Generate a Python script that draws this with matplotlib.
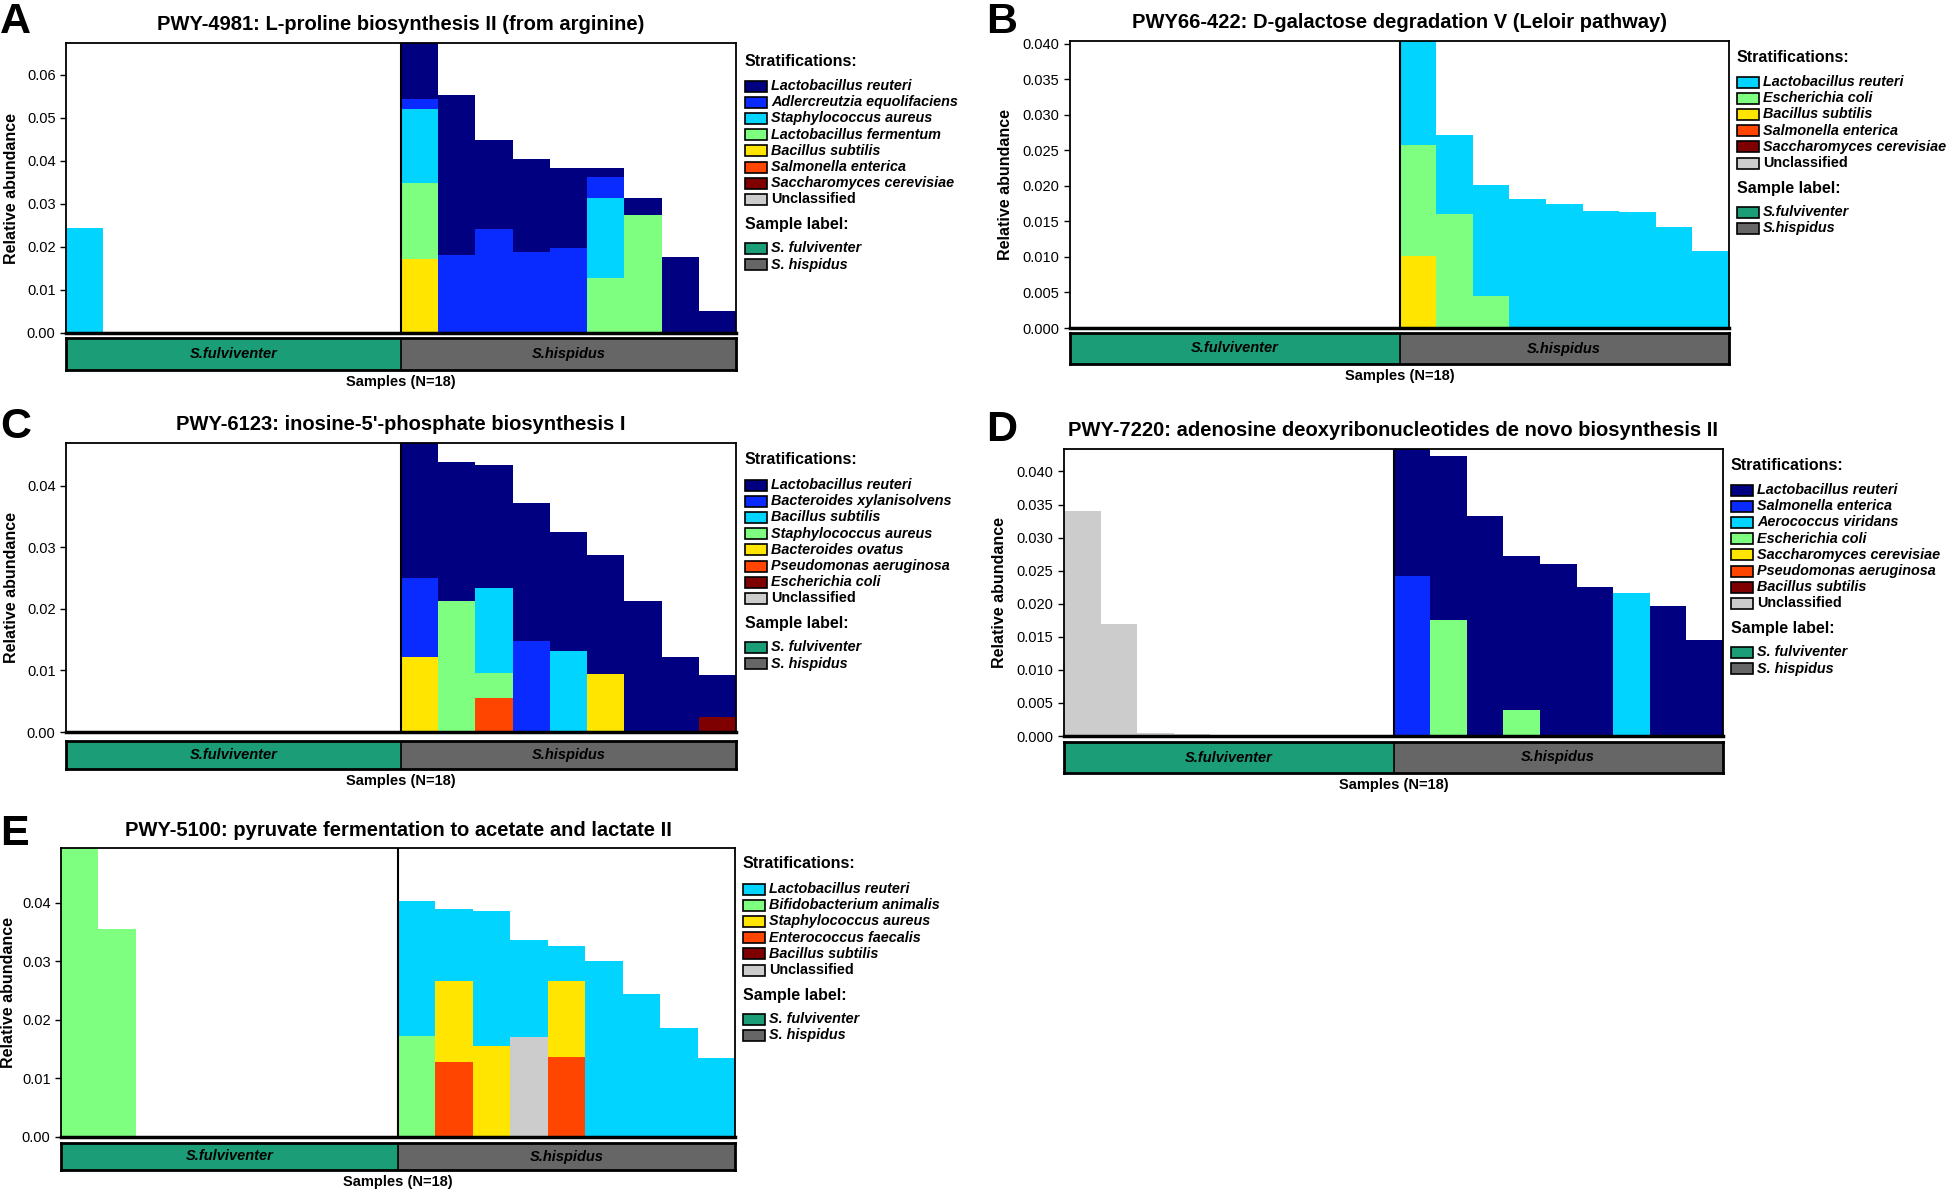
import numpy as np
import matplotlib
matplotlib.use('Agg')
import matplotlib.pyplot as plt
from matplotlib.patches import Rectangle
from matplotlib.ticker import MultipleLocator, FormatStrFormatter

plt.rcParams['font.family'] = ['Liberation Sans', 'DejaVu Sans']

W, H = 1946, 1190

# samples: 9 x S.fulviventer then 9 x S.hispidus, values are stacked segment heights
group_names = ['S.fulviventer', 'S.hispidus']

# A: PWY-4981
a_species = ['Lactobacillus reuteri', 'Adlercreutzia equolifaciens', 'Staphylococcus aureus',
             'Lactobacillus fermentum', 'Bacillus subtilis', 'Salmonella enterica',
             'Saccharomyces cerevisiae', 'Unclassified']
a_reuteri = [0, 0, 0, 0, 0, 0, 0, 0, 0, 0.0129, 0.0371, 0.0207, 0.0217, 0.0187, 0.0020, 0.0040, 0.0177, 0.0052]
a_adler = [0, 0, 0, 0, 0, 0, 0, 0, 0, 0.0025, 0.0181, 0.0241, 0.0188, 0.0197, 0.0049, 0, 0, 0]
a_aureus = [0.0243, 0, 0, 0, 0, 0, 0, 0, 0, 0.0171, 0, 0, 0, 0, 0.0187, 0, 0, 0]
a_fermentum = [0, 0, 0, 0, 0, 0, 0, 0, 0, 0.0177, 0, 0, 0, 0, 0.0127, 0.0274, 0, 0]
a_subtilis = [0, 0, 0, 0, 0, 0, 0, 0, 0, 0.0172, 0, 0, 0, 0, 0, 0, 0, 0]
a_salmonella = [0] * 18
a_sacch = [0] * 18
a_unclass = [0] * 18

# B: PWY66-422
b_species = ['Lactobacillus reuteri', 'Escherichia coli', 'Bacillus subtilis',
             'Salmonella enterica', 'Saccharomyces cerevisiae', 'Unclassified']
b_reuteri = [0, 0, 0, 0, 0, 0, 0, 0, 0, 0.0147, 0.0110, 0.0156, 0.0182, 0.0174, 0.0165, 0.0163, 0.0142, 0.0108]
b_ecoli = [0, 0, 0, 0, 0, 0, 0, 0, 0, 0.0156, 0.0161, 0.0045, 0, 0, 0, 0, 0, 0]
b_subtilis = [0, 0, 0, 0, 0, 0, 0, 0, 0, 0.0101, 0, 0, 0, 0, 0, 0, 0, 0]
b_salmonella = [0] * 18
b_sacch = [0] * 18
b_unclass = [0] * 18

# C: PWY-6123
c_species = ['Lactobacillus reuteri', 'Bacteroides xylanisolvens', 'Bacillus subtilis',
             'Staphylococcus aureus', 'Bacteroides ovatus', 'Pseudomonas aeruginosa',
             'Escherichia coli', 'Unclassified']
c_reuteri = [0, 0, 0, 0, 0, 0, 0, 0, 0, 0.0219, 0.0225, 0.0200, 0.0223, 0.0193, 0.0194, 0.0212, 0.0121, 0.0068]
c_xylan = [0, 0, 0, 0, 0, 0, 0, 0, 0, 0.0129, 0, 0, 0.0148, 0, 0, 0, 0, 0]
c_subtilis = [0, 0, 0, 0, 0, 0, 0, 0, 0, 0, 0, 0.0138, 0, 0.0132, 0, 0, 0, 0]
c_aureus = [0, 0, 0, 0, 0, 0, 0, 0, 0, 0, 0.0213, 0.0041, 0, 0, 0, 0, 0, 0]
c_ovatus = [0, 0, 0, 0, 0, 0, 0, 0, 0, 0.0121, 0, 0, 0, 0, 0.0094, 0, 0, 0]
c_aeruginosa = [0, 0, 0, 0, 0, 0, 0, 0, 0, 0, 0, 0.0055, 0, 0, 0, 0, 0, 0]
c_ecoli = [0, 0, 0, 0, 0, 0, 0, 0, 0, 0, 0, 0, 0, 0, 0, 0, 0, 0.0024]
c_unclass = [0] * 18

# D: PWY-7220
d_species = ['Lactobacillus reuteri', 'Salmonella enterica', 'Aerococcus viridans',
             'Escherichia coli', 'Saccharomyces cerevisiae', 'Pseudomonas aeruginosa',
             'Bacillus subtilis', 'Unclassified']
d_reuteri = [0, 0, 0, 0, 0, 0, 0, 0, 0, 0.0192, 0.0249, 0.0333, 0.0232, 0.0260, 0.0226, 0, 0.0197, 0.0145]
d_salmonella = [0, 0, 0, 0, 0, 0, 0, 0, 0, 0.0242, 0, 0, 0, 0, 0, 0, 0, 0]
d_aerococcus = [0, 0, 0, 0, 0, 0, 0, 0, 0, 0, 0, 0, 0, 0, 0, 0.0217, 0, 0]
d_ecoli = [0, 0, 0, 0, 0, 0, 0, 0, 0, 0, 0.0175, 0, 0.0040, 0, 0, 0, 0, 0]
d_sacch = [0] * 18
d_aeruginosa = [0] * 18
d_subtilis = [0] * 18
d_unclass = [0.0340, 0.0169, 0.0005, 0.0003, 0, 0, 0, 0, 0, 0, 0, 0, 0, 0, 0, 0, 0, 0]

# E: PWY-5100
e_species = ['Lactobacillus reuteri', 'Bifidobacterium animalis', 'Staphylococcus aureus',
             'Enterococcus faecalis', 'Bacillus subtilis', 'Unclassified']
e_reuteri = [0, 0, 0, 0, 0, 0, 0, 0, 0, 0.0231, 0.0123, 0.0231, 0.0166, 0.0060, 0.0301, 0.0245, 0.0186, 0.0135]
e_bifido = [0.0494, 0.0356, 0, 0, 0, 0, 0, 0, 0, 0.0172, 0, 0, 0, 0, 0, 0, 0, 0]
e_aureus = [0, 0, 0, 0, 0, 0, 0, 0, 0, 0, 0.0138, 0.0155, 0, 0.0131, 0, 0, 0, 0]
e_faecalis = [0, 0, 0, 0, 0, 0, 0, 0, 0, 0, 0.0129, 0, 0, 0.0136, 0, 0, 0, 0]
e_subtilis = [0] * 18
e_unclass = [0, 0, 0, 0, 0, 0, 0, 0, 0, 0, 0, 0, 0.0171, 0, 0, 0, 0, 0]

pal8 = ['#000080', '#0a2bff', '#00d4ff', '#7fff7f', '#ffe500', '#ff4500', '#7f0000', '#cccccc']
pal6 = pal8[2:]
group_colors = ['#1b9e77', '#666666']

fig = plt.figure(figsize=(W / 100, H / 100), dpi=100)
overlay = fig.add_axes([0, 0, 1, 1], zorder=10)
overlay.set_xlim(0, W)
overlay.set_ylim(H, 0)
overlay.axis('off')


def px_axes(x0, y0, x1, y1):
    return fig.add_axes([x0 / W, 1 - y1 / H, (x1 - x0) / W, (y1 - y0) / H])


def draw_panel(letter, letter_xy, title, box, bar_y, species, values, colors,
               step, fmt, ylab_x, leg_xy, sample_names):
    x0, y0, x1, y1 = box
    ax = px_axes(x0, y0, x1, y1)
    x = np.arange(18)
    bottom = np.zeros(18)
    # stack from the last legend entry up to the first
    for vals, col in list(zip(values, colors))[::-1]:
        vals = np.array(vals)
        ax.bar(x, vals, width=1, bottom=bottom, align='edge', color=col, linewidth=0)
        bottom += vals
    ax.set_xlim(0, 18)
    ax.set_ylim(0, bottom.max())
    ax.axvline(9, color='black', lw=1.5)
    ax.set_xticks([])
    ax.yaxis.set_major_locator(MultipleLocator(step))
    ax.yaxis.set_major_formatter(FormatStrFormatter(fmt))
    ax.tick_params(axis='y', labelsize=10.5, length=4, width=1)
    for s in ax.spines.values():
        s.set_linewidth(1.3)
    ax.spines['bottom'].set_linewidth(2.5)

    # sample label strip
    bx = px_axes(x0, bar_y[0], x1, bar_y[1])
    bx.set_xlim(0, 18)
    bx.set_ylim(0, 1)
    bx.add_patch(Rectangle((0, 0), 9, 1, color=group_colors[0], lw=0))
    bx.add_patch(Rectangle((9, 0), 9, 1, color=group_colors[1], lw=0))
    bx.axvline(9, color='black', lw=1.2)
    bx.set_xticks([])
    bx.set_yticks([])
    for s in bx.spines.values():
        s.set_linewidth(2)
    for i, g in enumerate(group_names):
        bx.text(4.5 + 9 * i, 0.5, g, ha='center', va='center', fontsize=10.5,
                fontweight='bold', fontstyle='italic')

    xc = (x0 + x1) / 2
    overlay.text(xc, bar_y[1] + 12, 'Samples (N=18)', ha='center', va='center',
                 fontsize=10.5, fontweight='bold')
    overlay.text(xc, y0 - 18, title, ha='center', va='center', fontsize=14.5, fontweight='bold')
    overlay.text(letter_xy[0], letter_xy[1], letter, ha='left', va='top', fontsize=31, fontweight='bold')
    overlay.text(ylab_x, (y0 + y1) / 2, 'Relative abundance', rotation=90, ha='center',
                 va='center', fontsize=11.5, fontweight='bold')

    # legend
    lx, ly = leg_xy
    overlay.text(lx, ly, 'Stratifications:', ha='left', va='center', fontsize=11.5, fontweight='bold')
    yy = ly + 25
    for sp, col in zip(species, colors):
        overlay.add_patch(Rectangle((lx, yy - 5.5), 22, 11, facecolor=col, edgecolor='black', lw=1.2))
        overlay.text(lx + 26, yy, sp, ha='left', va='center', fontsize=10.4, fontweight='bold',
                     fontstyle='normal' if sp == 'Unclassified' else 'italic')
        yy += 16.2
    yy += 25 - 16.2
    overlay.text(lx, yy, 'Sample label:', ha='left', va='center', fontsize=11.5, fontweight='bold')
    yy += 24
    for sp, col in zip(sample_names, group_colors):
        overlay.add_patch(Rectangle((lx, yy - 5.5), 22, 11, facecolor=col, edgecolor='black', lw=1.2))
        overlay.text(lx + 26, yy, sp, ha='left', va='center', fontsize=10.4, fontweight='bold',
                     fontstyle='italic')
        yy += 16.2


draw_panel('A', (0, 2), 'PWY-4981: L-proline biosynthesis II (from arginine)',
           (66, 43, 736, 333), (338, 370), a_species,
           [a_reuteri, a_adler, a_aureus, a_fermentum, a_subtilis, a_salmonella, a_sacch, a_unclass],
           pal8, 0.01, '%.2f', 12, (745, 61), ['S. fulviventer', 'S. hispidus'])

draw_panel('B', (986, 2), 'PWY66-422: D-galactose degradation V (Leloir pathway)',
           (1070, 41, 1729, 328), (333, 364), b_species,
           [b_reuteri, b_ecoli, b_subtilis, b_salmonella, b_sacch, b_unclass],
           pal6, 0.005, '%.3f', 1006, (1737, 57), ['S.fulviventer', 'S.hispidus'])

draw_panel('C', (0, 407), "PWY-6123: inosine-5'-phosphate biosynthesis I",
           (66, 443, 736, 732), (741, 769), c_species,
           [c_reuteri, c_xylan, c_subtilis, c_aureus, c_ovatus, c_aeruginosa, c_ecoli, c_unclass],
           pal8, 0.01, '%.2f', 12, (745, 460), ['S. fulviventer', 'S. hispidus'])

draw_panel('D', (986, 410), 'PWY-7220: adenosine deoxyribonucleotides de novo biosynthesis II',
           (1064, 449, 1723, 736), (742, 773), d_species,
           [d_reuteri, d_salmonella, d_aerococcus, d_ecoli, d_sacch, d_aeruginosa, d_subtilis, d_unclass],
           pal8, 0.005, '%.3f', 1000, (1731, 465), ['S. fulviventer', 'S. hispidus'])

draw_panel('E', (0, 814), 'PWY-5100: pyruvate fermentation to acetate and lactate II',
           (61, 848, 735, 1137), (1143, 1170), e_species,
           [e_reuteri, e_bifido, e_aureus, e_faecalis, e_subtilis, e_unclass],
           pal6, 0.01, '%.2f', 9, (743, 864), ['S. fulviventer', 'S. hispidus'])

fig.savefig('out.png', dpi=100)
